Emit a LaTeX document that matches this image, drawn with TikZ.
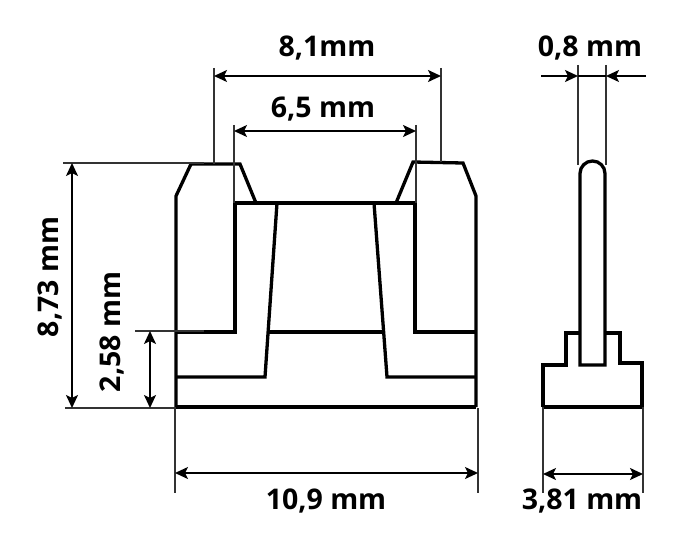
\documentclass[tikz,border=0pt]{standalone}
\usepackage{fontspec}
\setmainfont{Open Sans}
\usetikzlibrary{arrows.meta}
\tikzset{
  part/.style={line width=3.3pt, line join=miter},
  ext/.style={line width=1.4pt, draw=black!80},
  dim/.style={line width=1.8pt, {Stealth[length=13pt,width=12pt,inset=3pt]}-{Stealth[length=13pt,width=12pt,inset=3pt]}},
  lead/.style={line width=1.8pt, -{Stealth[length=13pt,width=12pt,inset=3pt]}},
  size/.style={font=\fontsize{28.5}{30}\selectfont\bfseries, inner sep=0pt}
}
\begin{document}
\begin{tikzpicture}[x=1pt, y=-1pt]
   \useasboundingbox (0,0) rectangle (700,548);
   % front view
   \draw[part] (176,407) -- (176,196) -- (191,164) -- (240,164) -- (256,203);
   \draw[part] (396,203) -- (413,162) -- (463,163) -- (476,196) -- (476,407);
   \draw[part] (176,407) -- (476,407);
   \draw[part] (176,332) -- (235,332) -- (235,203) -- (415,203) -- (415,332) -- (476,332);
   \draw[part] (277,203) -- (265,377) -- (176,377);
   \draw[part] (374,203) -- (387,377) -- (476,377);
   \draw[part] (269,332) -- (383,332);
   % side view
   \draw[part] (543,407) -- (543,365) -- (566,365) -- (566,333) -- (580,333);
   \draw[part] (642,407) -- (642,363) -- (620,363) -- (620,333) -- (605,333);
   \draw[part] (543,407) -- (642,407);
   \draw[part] (580,365) -- (580,173.5) arc (180:360:12.5) -- (605,365) -- cycle;
   % points for the dimensions
   \coordinate (a1) at (214,68);   \coordinate (a2) at (214,164);
   \coordinate (b1) at (441,68);   \coordinate (b2) at (441,162);
   \coordinate (c1) at (234,125);  \coordinate (c2) at (234,203);
   \coordinate (d1) at (416,125);  \coordinate (d2) at (416,203);
   \coordinate (e1) at (63,163);   \coordinate (e2) at (204,163);
   \coordinate (f1) at (65,408);   \coordinate (f2) at (176,408);
   \coordinate (g1) at (135,331);  \coordinate (g2) at (204,331);
   \coordinate (h1) at (175,408);  \coordinate (h2) at (175,493);
   \coordinate (i1) at (478,408);  \coordinate (i2) at (478,493);
   \coordinate (j1) at (578,65);   \coordinate (j2) at (578,165);
   \coordinate (k1) at (606,65);   \coordinate (k2) at (606,165);
   \coordinate (l1) at (543,407);  \coordinate (l2) at (543,493);
   \coordinate (m1) at (643,407);  \coordinate (m2) at (643,493);
   \draw[ext] (a1) -- (a2);
   \draw[ext] (b1) -- (b2);
   \draw[ext] (c1) -- (c2);
   \draw[ext] (d1) -- (d2);
   \draw[ext] (e1) -- (e2);
   \draw[ext] (f1) -- (f2);
   \draw[ext] (g1) -- (g2);
   \draw[ext] (h1) -- (h2);
   \draw[ext] (i1) -- (i2);
   \draw[ext] (j1) -- (j2);
   \draw[ext] (k1) -- (k2);
   \draw[ext] (l1) -- (l2);
   \draw[ext] (m1) -- (m2);
   % arrows
   \coordinate (w1) at (214,76);   \coordinate (w2) at (441,76);
   \coordinate (n1) at (234,131);  \coordinate (n2) at (416,131);
   \coordinate (t1) at (72,163);   \coordinate (t2) at (72,408);
   \coordinate (s1) at (150,331);  \coordinate (s2) at (150,408);
   \coordinate (u1) at (175,473);  \coordinate (u2) at (478,473);
   \coordinate (v1) at (543,474);  \coordinate (v2) at (643,474);
   \coordinate (p1) at (541,76);   \coordinate (p2) at (578,76);
   \coordinate (q1) at (646,76);   \coordinate (q2) at (606,76);
   \draw[dim] (w1) -- (w2);
   \draw[dim] (n1) -- (n2);
   \draw[dim] (t1) -- (t2);
   \draw[dim] (s1) -- (s2);
   \draw[dim] (u1) -- (u2);
   \draw[dim] (v1) -- (v2);
   \draw[lead] (p1) -- (p2);
   \draw[lead] (q1) -- (q2);
   \draw[line width=1.8pt] (p2) -- (q2);
   % sizes
   \node[size] (width) at (327,48) {8,1mm};
   \node[size] (gap) at (323,109) {6,5 mm};
   \node[size, rotate=90] (height) at (50,277) {8,73 mm};
   \node[size, rotate=90] (step) at (112,332) {2,58 mm};
   \node[size] (base) at (326,501) {10,9 mm};
   \node[size] (thick) at (590,48) {0,8 mm};
   \node[size] (foot) at (582,501) {3,81 mm};
\end{tikzpicture}
\end{document}
